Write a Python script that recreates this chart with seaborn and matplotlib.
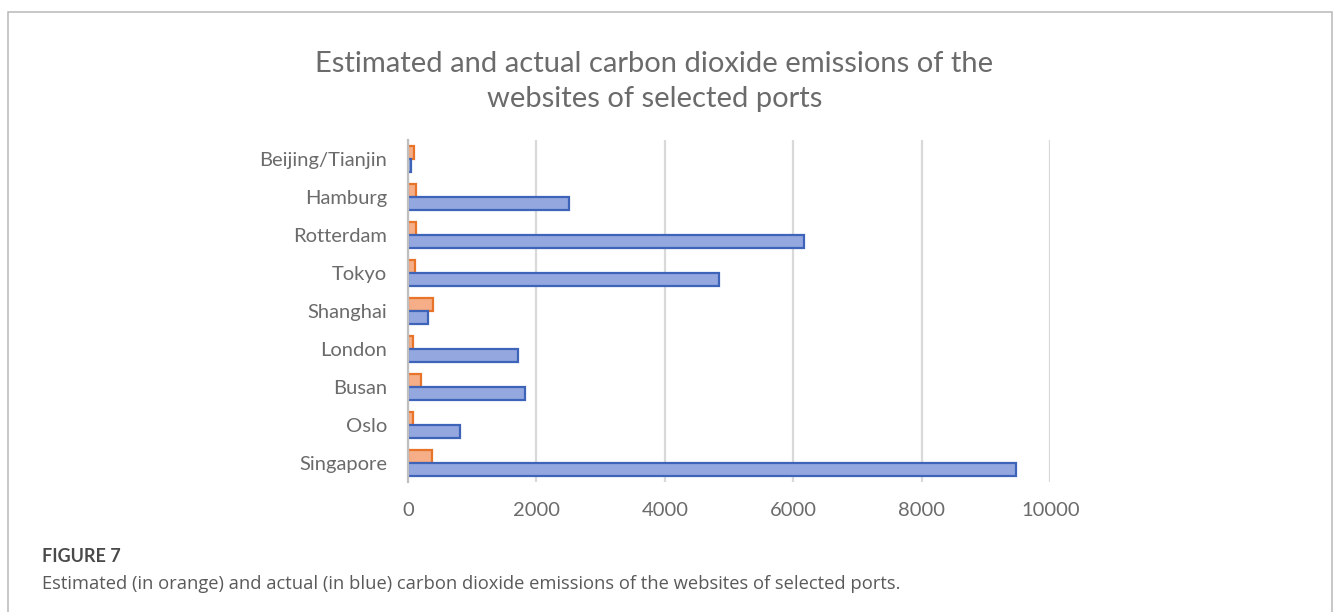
import matplotlib
matplotlib.use("Agg")
import matplotlib.pyplot as plt
import seaborn as sns
import pandas as pd
from matplotlib.patches import Rectangle

ports = ["Beijing/Tianjin", "Hamburg", "Rotterdam", "Tokyo", "Shanghai",
         "London", "Busan", "Oslo", "Singapore"]
estimated = [98, 130, 130, 115, 383, 73, 207, 73, 373]
actual = [52, 2510, 6170, 4840, 316, 1710, 1820, 810, 9460]
series_names = ["Estimated", "Actual"]
x_ticks = [0, 2000, 4000, 6000, 8000, 10000]

title = "Estimated and actual carbon dioxide emissions of the\nwebsites of selected ports"
fig_label = "FIGURE 7"
caption = ("Estimated (in orange) and actual (in blue) carbon dioxide emissions "
           "of the websites of selected ports.")

df = pd.DataFrame({
    "port": ports * 2,
    "value": estimated + actual,
    "series": [series_names[0]] * len(ports) + [series_names[1]] * len(ports),
})

sns.set_theme(style="white")
plt.rcParams["font.family"] = ["Lato", "DejaVu Sans"]

fig = plt.figure(figsize=(13.33, 6.12), dpi=100)
ax = fig.add_axes([0.306, 0.212, 0.482, 0.559])

fills = {"Estimated": "#F5AE88", "Actual": "#94A8DF"}
edges = {"Estimated": "#E8742A", "Actual": "#3D64B8"}

sns.barplot(data=df, x="value", y="port", hue="series", order=ports,
            hue_order=series_names, palette=fills, orient="h",
            width=0.68, gap=0, ax=ax, legend=False, saturation=1)

for cont, name in zip(ax.containers, series_names):
    for bar in cont:
        bar.set_edgecolor(edges[name])
        bar.set_linewidth(1.6)
        bar.set_zorder(3)

ax.set_xlim(0, 10000)
ax.set_ylim(len(ports) - 0.5, -0.5)
ax.set_xticks(x_ticks)
ax.set_xticklabels([str(t) for t in x_ticks])
ax.xaxis.grid(True, color="#D9D9D9", linewidth=1.6, zorder=0)
ax.yaxis.grid(False)
ax.set_axisbelow(True)
for side in ["top", "right", "bottom"]:
    ax.spines[side].set_visible(False)
ax.spines["left"].set_color("#BFBFBF")
ax.spines["left"].set_linewidth(1.6)
ax.spines["left"].set_zorder(4)
ax.set_xlabel("")
ax.set_ylabel("")
ax.tick_params(axis="x", length=0, pad=14, labelsize=14.5, labelcolor="#6B6B6B")
ax.tick_params(axis="y", length=0, pad=15, labelsize=14.5, labelcolor="#6B6B6B")

fig.text(0.491, 0.867, title, ha="center", va="center", fontsize=21,
         color="#6B6B6B", linespacing=1.42)

fig.text(0.0315, 0.0915, fig_label, ha="left", va="center", fontsize=13,
         fontweight="bold", color="#4A4A4A")
fig.text(0.0315, 0.045, caption, ha="left", va="center", fontsize=13.2,
         color="#5A5A5A", family=["Open Sans", "DejaVu Sans"])

fig.patches.append(Rectangle((8 / 1333, -0.05), (1332 - 8) / 1333, 1 - 12 / 612 + 0.05,
                             transform=fig.transFigure, fill=False,
                             edgecolor="#BDBDBD", linewidth=1.2))

fig.savefig("out.png", dpi=100)
